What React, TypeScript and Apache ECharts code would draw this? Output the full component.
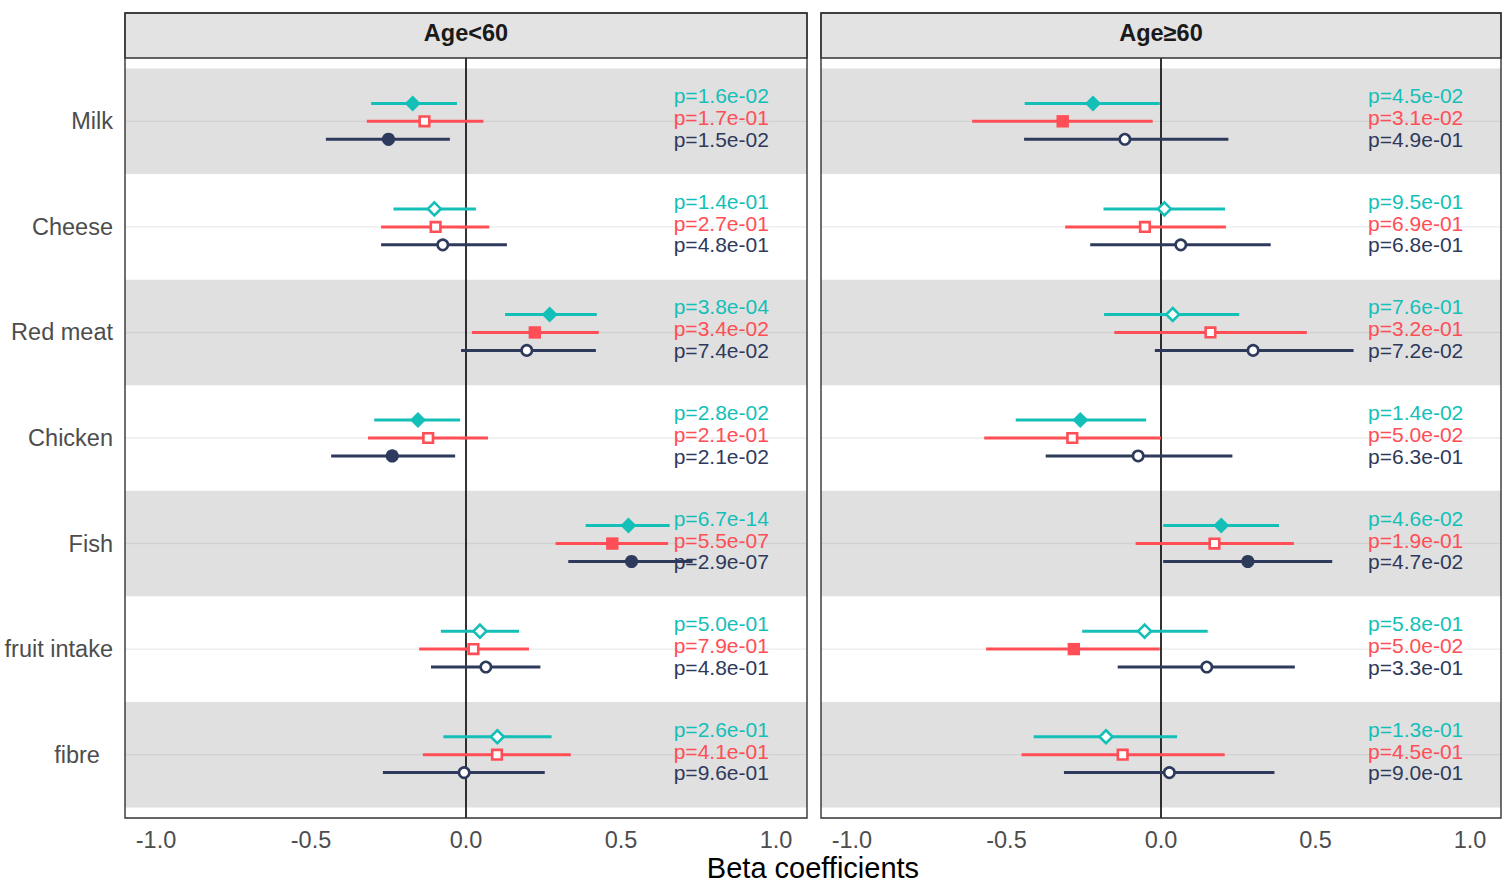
import React, { useEffect, useRef } from "react";
import * as echarts from "echarts";

// ---------------- data ----------------
const categories = ["Milk", "Cheese", "Red meat", "Chicken", "Fish", "fruit intake", "fibre\u00a0\u00a0"];
const panelTitles = ["Age<60", "Age\u226560"];
const groupNames = ["Model 1", "Model 2", "Model 3"];
const xTicks = [-1, -0.5, 0, 0.5, 1];
const xAxisTitle = "Beta coefficients";

// Age<60
const young1Est = [-0.172, -0.102, 0.27, -0.155, 0.524, 0.045, 0.101];
const young1Lo = [-0.306, -0.234, 0.126, -0.296, 0.386, -0.081, -0.073];
const young1Hi = [-0.029, 0.032, 0.422, -0.019, 0.657, 0.171, 0.276];
const young1P = ["1.6e-02", "1.4e-01", "3.8e-04", "2.8e-02", "6.7e-14", "5.0e-01", "2.6e-01"];

const young2Est = [-0.134, -0.098, 0.222, -0.122, 0.472, 0.024, 0.1];
const young2Lo = [-0.32, -0.274, 0.019, -0.316, 0.289, -0.151, -0.139];
const young2Hi = [0.056, 0.075, 0.428, 0.071, 0.652, 0.203, 0.338];
const young2P = ["1.7e-01", "2.7e-01", "3.4e-02", "2.1e-01", "5.5e-07", "7.9e-01", "4.1e-01"];

const young3Est = [-0.25, -0.075, 0.196, -0.238, 0.534, 0.064, -0.006];
const young3Lo = [-0.452, -0.274, -0.016, -0.435, 0.33, -0.113, -0.268];
const young3Hi = [-0.052, 0.132, 0.419, -0.035, 0.731, 0.24, 0.254];
const young3P = ["1.5e-02", "4.8e-01", "7.4e-02", "2.1e-02", "2.9e-07", "4.8e-01", "9.6e-01"];

// Age>=60
const old1Est = [-0.22, 0.011, 0.038, -0.261, 0.195, -0.053, -0.178];
const old1Lo = [-0.441, -0.186, -0.184, -0.47, 0.007, -0.255, -0.412];
const old1Hi = [-0.004, 0.207, 0.253, -0.048, 0.382, 0.151, 0.052];
const old1P = ["4.5e-02", "9.5e-01", "7.6e-01", "1.4e-02", "4.6e-02", "5.8e-01", "1.3e-01"];

const old2Est = [-0.318, -0.052, 0.16, -0.287, 0.173, -0.282, -0.124];
const old2Lo = [-0.611, -0.31, -0.151, -0.572, -0.082, -0.566, -0.451];
const old2Hi = [-0.027, 0.21, 0.472, 0.0, 0.43, -0.004, 0.206];
const old2P = ["3.1e-02", "6.9e-01", "3.2e-01", "5.0e-02", "1.9e-01", "5.0e-02", "4.5e-01"];

const old3Est = [-0.117, 0.064, 0.298, -0.074, 0.281, 0.148, 0.027];
const old3Lo = [-0.443, -0.229, -0.02, -0.373, 0.007, -0.14, -0.314];
const old3Hi = [0.218, 0.355, 0.623, 0.231, 0.554, 0.433, 0.367];
const old3P = ["4.9e-01", "6.8e-01", "7.2e-02", "6.3e-01", "4.7e-02", "3.3e-01", "9.0e-01"];

// ---------------- styles ----------------
const colors = ["#14BFB8", "#FF4E55", "#2E3A5C"];
const shapes = ["diamond", "square", "circle"];
const dodge = [-0.17, 0, 0.17]; // in category units
const textOffsetPx = [-25.5, -3.5, 18];
const pLabelX = 0.67;
const FONT = '"Liberation Sans", Arial, Helvetica, sans-serif';

const panels = [
  {
    groups: [
      { est: young1Est, lo: young1Lo, hi: young1Hi, p: young1P },
      { est: young2Est, lo: young2Lo, hi: young2Hi, p: young2P },
      { est: young3Est, lo: young3Lo, hi: young3Hi, p: young3P },
    ],
  },
  {
    groups: [
      { est: old1Est, lo: old1Lo, hi: old1Hi, p: old1P },
      { est: old2Est, lo: old2Lo, hi: old2Hi, p: old2P },
      { est: old3Est, lo: old3Lo, hi: old3Hi, p: old3P },
    ],
  },
];

const gridBoxes = [
  { left: 125, top: 58, width: 682, height: 760 },
  { left: 821, top: 58, width: 680, height: 760 },
];

function markerShape(shape: string, x: number, y: number, color: string, filled: boolean) {
  const stroke = filled ? undefined : color;
  const fill = filled ? color : "#ffffff";
  const lw = filled ? 0 : 2.6;
  if (shape === "diamond") {
    const r = filled ? 8 : 6.5;
    return {
      type: "polygon",
      shape: { points: [[x, y - r], [x + r, y], [x, y + r], [x - r, y]] },
      style: { fill, stroke, lineWidth: lw },
    };
  }
  if (shape === "square") {
    const h = filled ? 6.2 : 4.8;
    return {
      type: "rect",
      shape: { x: x - h, y: y - h, width: 2 * h, height: 2 * h },
      style: { fill, stroke, lineWidth: lw },
    };
  }
  const r = filled ? 6.6 : 5.2;
  return {
    type: "circle",
    shape: { cx: x, cy: y, r },
    style: { fill, stroke, lineWidth: lw },
  };
}

function buildOption() {
  const series: any[] = [];
  const xAxes: any[] = [];
  const yAxes: any[] = [];
  const grids: any[] = [];
  const graphics: any[] = [];

  panels.forEach((panel, pi) => {
    const g = gridBoxes[pi];
    grids.push({ ...g, containLabel: false });
    xAxes.push({
      type: "value",
      gridIndex: pi,
      min: -1.1,
      max: 1.1,
      axisLine: { show: false },
      splitLine: { show: false },
      axisTick: {
        show: true,
        length: 5,
        customValues: xTicks,
        lineStyle: { color: "#333333", width: 1.3 },
      },
      axisLabel: {
        customValues: xTicks,
        formatter: (v: number) => v.toFixed(1),
        color: "#4d4d4d",
        fontSize: 23.5,
        fontFamily: FONT,
        margin: 10,
      },
    });
    yAxes.push({
      type: "value",
      gridIndex: pi,
      min: -0.6,
      max: categories.length - 1 + 0.6,
      inverse: true,
      axisLine: { show: false },
      splitLine: { show: false },
      axisTick: {
        show: pi === 0,
        length: 6,
        customValues: categories.map((_, i) => i),
        lineStyle: { color: "#333333", width: 1.3 },
      },
      axisLabel: {
        show: pi === 0,
        customValues: categories.map((_, i) => i),
        formatter: (v: number) => categories[Math.round(v)] ?? "",
        color: "#4d4d4d",
        fontSize: 23.5,
        fontFamily: FONT,
        margin: 12,
      },
    });

    // background bands + center grid lines
    series.push({
      type: "custom",
      xAxisIndex: pi,
      yAxisIndex: pi,
      silent: true,
      z: 1,
      encode: { x: 0, y: 1 },
      data: categories.map((_, i) => [0, i]),
      renderItem: (params: any, api: any) => {
        const cs = params.coordSys;
        const i = api.value(1);
        const y1 = api.coord([0, i - 0.5])[1];
        const y2 = api.coord([0, i + 0.5])[1];
        const yc = api.coord([0, i])[1];
        const children: any[] = [];
        if (i % 2 === 0) {
          children.push({
            type: "rect",
            shape: { x: cs.x, y: Math.min(y1, y2), width: cs.width, height: Math.abs(y2 - y1) },
            style: { fill: "#e0e0e0" },
          });
        }
        children.push({
          type: "line",
          shape: { x1: cs.x, y1: yc, x2: cs.x + cs.width, y2: yc },
          style: { stroke: i % 2 === 0 ? "#d1d1d1" : "#ebebeb", lineWidth: 1.4 },
        });
        return { type: "group", children };
      },
    });

    // zero reference line
    series.push({
      type: "custom",
      xAxisIndex: pi,
      yAxisIndex: pi,
      silent: true,
      z: 2,
      encode: { x: 0, y: 1 },
      data: [[0, 0]],
      renderItem: (params: any, api: any) => {
        const cs = params.coordSys;
        const x = api.coord([0, 0])[0];
        return {
          type: "line",
          shape: { x1: x, y1: cs.y, x2: x, y2: cs.y + cs.height },
          style: { stroke: "#000000", lineWidth: 1.6 },
        };
      },
    });

    // error bars / points / p-values
    panel.groups.forEach((grp, gi) => {
      series.push({
        type: "custom",
        name: groupNames[gi],
        xAxisIndex: pi,
        yAxisIndex: pi,
        z: 3 + gi,
        encode: { x: [0, 2, 3], y: 1 },
        data: categories.map((_, i) => [grp.est[i], i, grp.lo[i], grp.hi[i]]),
        renderItem: (params: any, api: any) => {
          const idx = api.value(1);
          const est = api.value(0);
          const lo = api.value(2);
          const hi = api.value(3);
          const unit = api.size([0, 1])[1];
          const center = api.coord([est, idx]);
          const y = center[1] + dodge[gi] * unit;
          const xl = api.coord([lo, idx])[0];
          const xh = api.coord([hi, idx])[0];
          const filled = lo > 0 || hi < 0;
          const tx = api.coord([pLabelX, idx])[0];
          return {
            type: "group",
            children: [
              {
                type: "text",
                style: {
                  x: tx,
                  y: center[1] + textOffsetPx[gi],
                  text: "p=" + grp.p[params.dataIndex],
                  fill: colors[gi],
                  fontSize: 21,
                  lineHeight: 19,
                  fontFamily: FONT,
                  align: "left",
                  verticalAlign: "middle",
                },
              },
              {
                type: "line",
                shape: { x1: xl, y1: y, x2: xh, y2: y },
                style: { stroke: colors[gi], lineWidth: 3 },
              },
              markerShape(shapes[gi], center[0], y, colors[gi], filled),
            ],
          };
        },
      });
    });

    // strip header
    const stripTop = 13;
    graphics.push({
      type: "rect",
      z: 100,
      shape: { x: g.left, y: stripTop, width: g.width, height: g.top - stripTop },
      style: { fill: "#e3e3e3", stroke: "#333333", lineWidth: 1.4 },
    });
    graphics.push({
      type: "text",
      z: 101,
      style: {
        x: g.left + g.width / 2,
        y: 33,
        text: panelTitles[pi],
        fill: "#1a1a1a",
        fontSize: 23.5,
        fontWeight: "bold",
        fontFamily: FONT,
        align: "center",
        verticalAlign: "middle",
      },
    });
    graphics.push({
      type: "rect",
      z: 100,
      shape: { x: g.left, y: stripTop, width: g.width, height: g.top + g.height - stripTop },
      style: { fill: "none", stroke: "#333333", lineWidth: 1.4 },
    });
  });

  graphics.push({
    type: "text",
    z: 101,
    style: {
      x: (gridBoxes[0].left + gridBoxes[1].left + gridBoxes[1].width) / 2,
      y: 868,
      text: xAxisTitle,
      fill: "#000000",
      fontSize: 29,
      fontFamily: FONT,
      align: "center",
      verticalAlign: "middle",
    },
  });

  return {
    animation: false,
    backgroundColor: "#ffffff",
    textStyle: { fontFamily: FONT },
    grid: grids,
    xAxis: xAxes,
    yAxis: yAxes,
    series,
    graphic: graphics,
  };
}

export default function App() {
  const ref = useRef<HTMLDivElement>(null);
  useEffect(() => {
    if (!ref.current) return;
    const chart = echarts.init(ref.current, undefined, { renderer: "svg" });
    chart.setOption(buildOption() as any);
    return () => chart.dispose();
  }, []);
  return (
    <div
      ref={ref}
      style={{ position: "fixed", left: 0, top: 0, width: 1502, height: 884, background: "#fff" }}
    />
  );
}
